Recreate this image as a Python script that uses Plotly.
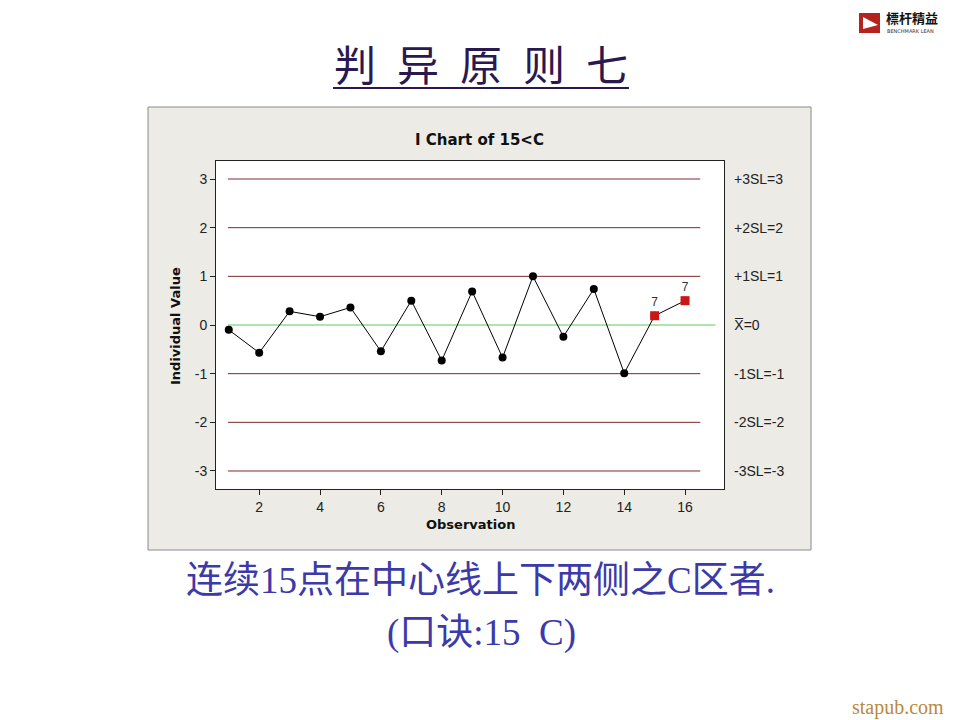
import plotly.graph_objects as go

# ---- data ----
observations = list(range(1, 17))
values = [-0.10, -0.57, 0.28, 0.17, 0.36, -0.54, 0.50, -0.73, 0.69, -0.67,
          1.00, -0.24, 0.74, -0.99, 0.19, 0.50]
flagged_obs = [15, 16]
flag_labels = ["7", "7"]
limit_values = [3, 2, 1, -1, -2, -3]
limit_labels = ["+3SL=3", "+2SL=2", "+1SL=1", "-1SL=-1", "-2SL=-2", "-3SL=-3"]
center_value = 0
center_label = "X\u0305=0"
x_ticks = [2, 4, 6, 8, 10, 12, 14, 16]
y_ticks = [-3, -2, -1, 0, 1, 2, 3]

OFF = 8  # page body margin
W, H = 960 - OFF, 720 - OFF
def px(x):
    return (x - OFF) / W
def py(y):
    return 1 - (y - OFF) / H

fig = go.Figure()

x0, x1 = min(observations), max(observations)
# limit lines
for v in limit_values:
    fig.add_trace(go.Scatter(x=[x0 - 0.03, x1 + 0.5], y=[v, v], mode="lines",
                             line=dict(color="#7e2a2a", width=1), hoverinfo="skip",
                             showlegend=False))
# center line
fig.add_trace(go.Scatter(x=[x0 - 0.03, x1 + 1.0], y=[center_value, center_value], mode="lines",
                         line=dict(color="#5cc85c", width=1), hoverinfo="skip",
                         showlegend=False))
# data line
fig.add_trace(go.Scatter(x=observations, y=values, mode="lines+markers",
                         line=dict(color="black", width=1),
                         marker=dict(color="black", size=8, symbol="circle"),
                         showlegend=False))
# flagged points
fy = [values[observations.index(o)] for o in flagged_obs]
fig.add_trace(go.Scatter(x=flagged_obs, y=fy, mode="markers+text",
                         marker=dict(color="#cc1515", size=9, symbol="square"),
                         text=flag_labels, textposition="top center",
                         textfont=dict(size=12, color="#333", family="Liberation Sans"),
                         showlegend=False))

def ann(x, y, text, size, color, family, xanchor="center", yanchor="middle", **kw):
    return dict(x=x, y=y, xref="paper", yref="paper", text=text, showarrow=False,
                xanchor=xanchor, yanchor=yanchor,
                font=dict(size=size, color=color, family=family), **kw)

annotations = []
for v, lab in zip(limit_values, limit_labels):
    annotations.append(dict(x=px(732), y=v, xref="paper", yref="y", text=lab,
                            showarrow=False, xanchor="left", yanchor="middle",
                            font=dict(size=14, color="#222", family="Liberation Sans")))
annotations.append(dict(x=px(732), y=center_value, xref="paper", yref="y", text=center_label,
                        showarrow=False, xanchor="left", yanchor="middle",
                        font=dict(size=14, color="#222", family="Liberation Sans")))
# chart title and axis titles
annotations.append(ann(px(479), py(140), "<b>I Chart of 15&lt;C</b>", 15, "#111", "DejaVu Sans"))
annotations.append(ann(px(470), py(524), "<b>Observation</b>", 13, "#111", "DejaVu Sans"))
annotations.append(ann(px(176), py(326), "<b>Individual Value</b>", 13, "#111", "DejaVu Sans",
                       textangle=-90))
# heading
annotations.append(ann(px(481), py(62), "判\u2002异\u2002原\u2002则\u2002七", 42, "#2a1850",
                       "Noto Sans CJK SC"))
# bottom text
annotations.append(ann(px(480), py(580), "连续15点在中心线上下两侧之C区者.", 37, "#3b3aa8",
                       "Liberation Serif, Noto Sans CJK SC"))
annotations.append(ann(px(481), py(633), "(口诀:15  C)", 37, "#3b3aa8",
                       "Liberation Serif, Noto Sans CJK SC"))
# watermark
annotations.append(ann(px(946), py(707), "stapub.com", 20, "#b8893e", "Liberation Serif",
                       xanchor="right"))
# logo text
annotations.append(ann(px(884), py(18), "<b>標杆精益</b>", 13, "#111", "Noto Sans CJK TC",
                       xanchor="left"))
annotations.append(ann(px(885), py(31), "BENCHMARK LEAN", 5, "#333", "DejaVu Sans",
                       xanchor="left"))

shapes = [
    dict(type="rect", xref="paper", yref="paper", x0=px(148), x1=px(811), y0=py(550), y1=py(107),
         fillcolor="#ecebe5", line=dict(color="#8a8a8a", width=1), layer="below"),
    dict(type="rect", xref="paper", yref="paper", x0=px(216), x1=px(724), y0=py(489), y1=py(161),
         fillcolor="white", line=dict(width=0), layer="below"),
    dict(type="line", xref="paper", yref="paper", x0=px(333), x1=px(629), y0=py(88), y1=py(88),
         line=dict(color="#2a1850", width=2)),
    dict(type="rect", xref="paper", yref="paper", x0=px(859), x1=px(880), y0=py(33), y1=py(13),
         fillcolor="#b5231f", line=dict(width=0)),
    dict(type="path", xref="paper", yref="paper",
         path=f"M {px(863)} {py(17)} L {px(863)} {py(29)} L {px(878)} {py(25)} Z",
         fillcolor="white", line=dict(width=0)),
]

fig.update_layout(
    width=W, height=H,
    margin=dict(l=0, r=0, t=0, b=0),
    paper_bgcolor="white", plot_bgcolor="white",
    xaxis=dict(domain=[px(216), px(724)], range=[0.58, 17.28], tickvals=x_ticks,
               ticktext=[str(t) for t in x_ticks],
               ticks="outside", ticklen=5, tickcolor="#222", showgrid=False, zeroline=False,
               showline=True, mirror=True, linecolor="#222", linewidth=1,
               tickfont=dict(size=14, color="#222", family="Liberation Sans")),
    yaxis=dict(domain=[py(489), py(161)], range=[-3.37, 3.37], tickvals=y_ticks,
               ticktext=[str(t) for t in y_ticks],
               ticks="outside", ticklen=5, tickcolor="#222", showgrid=False, zeroline=False,
               showline=True, mirror=True, linecolor="#222", linewidth=1,
               tickfont=dict(size=14, color="#222", family="Liberation Sans")),
    annotations=annotations,
    shapes=shapes,
    showlegend=False,
)

fig.write_html("out.html")
